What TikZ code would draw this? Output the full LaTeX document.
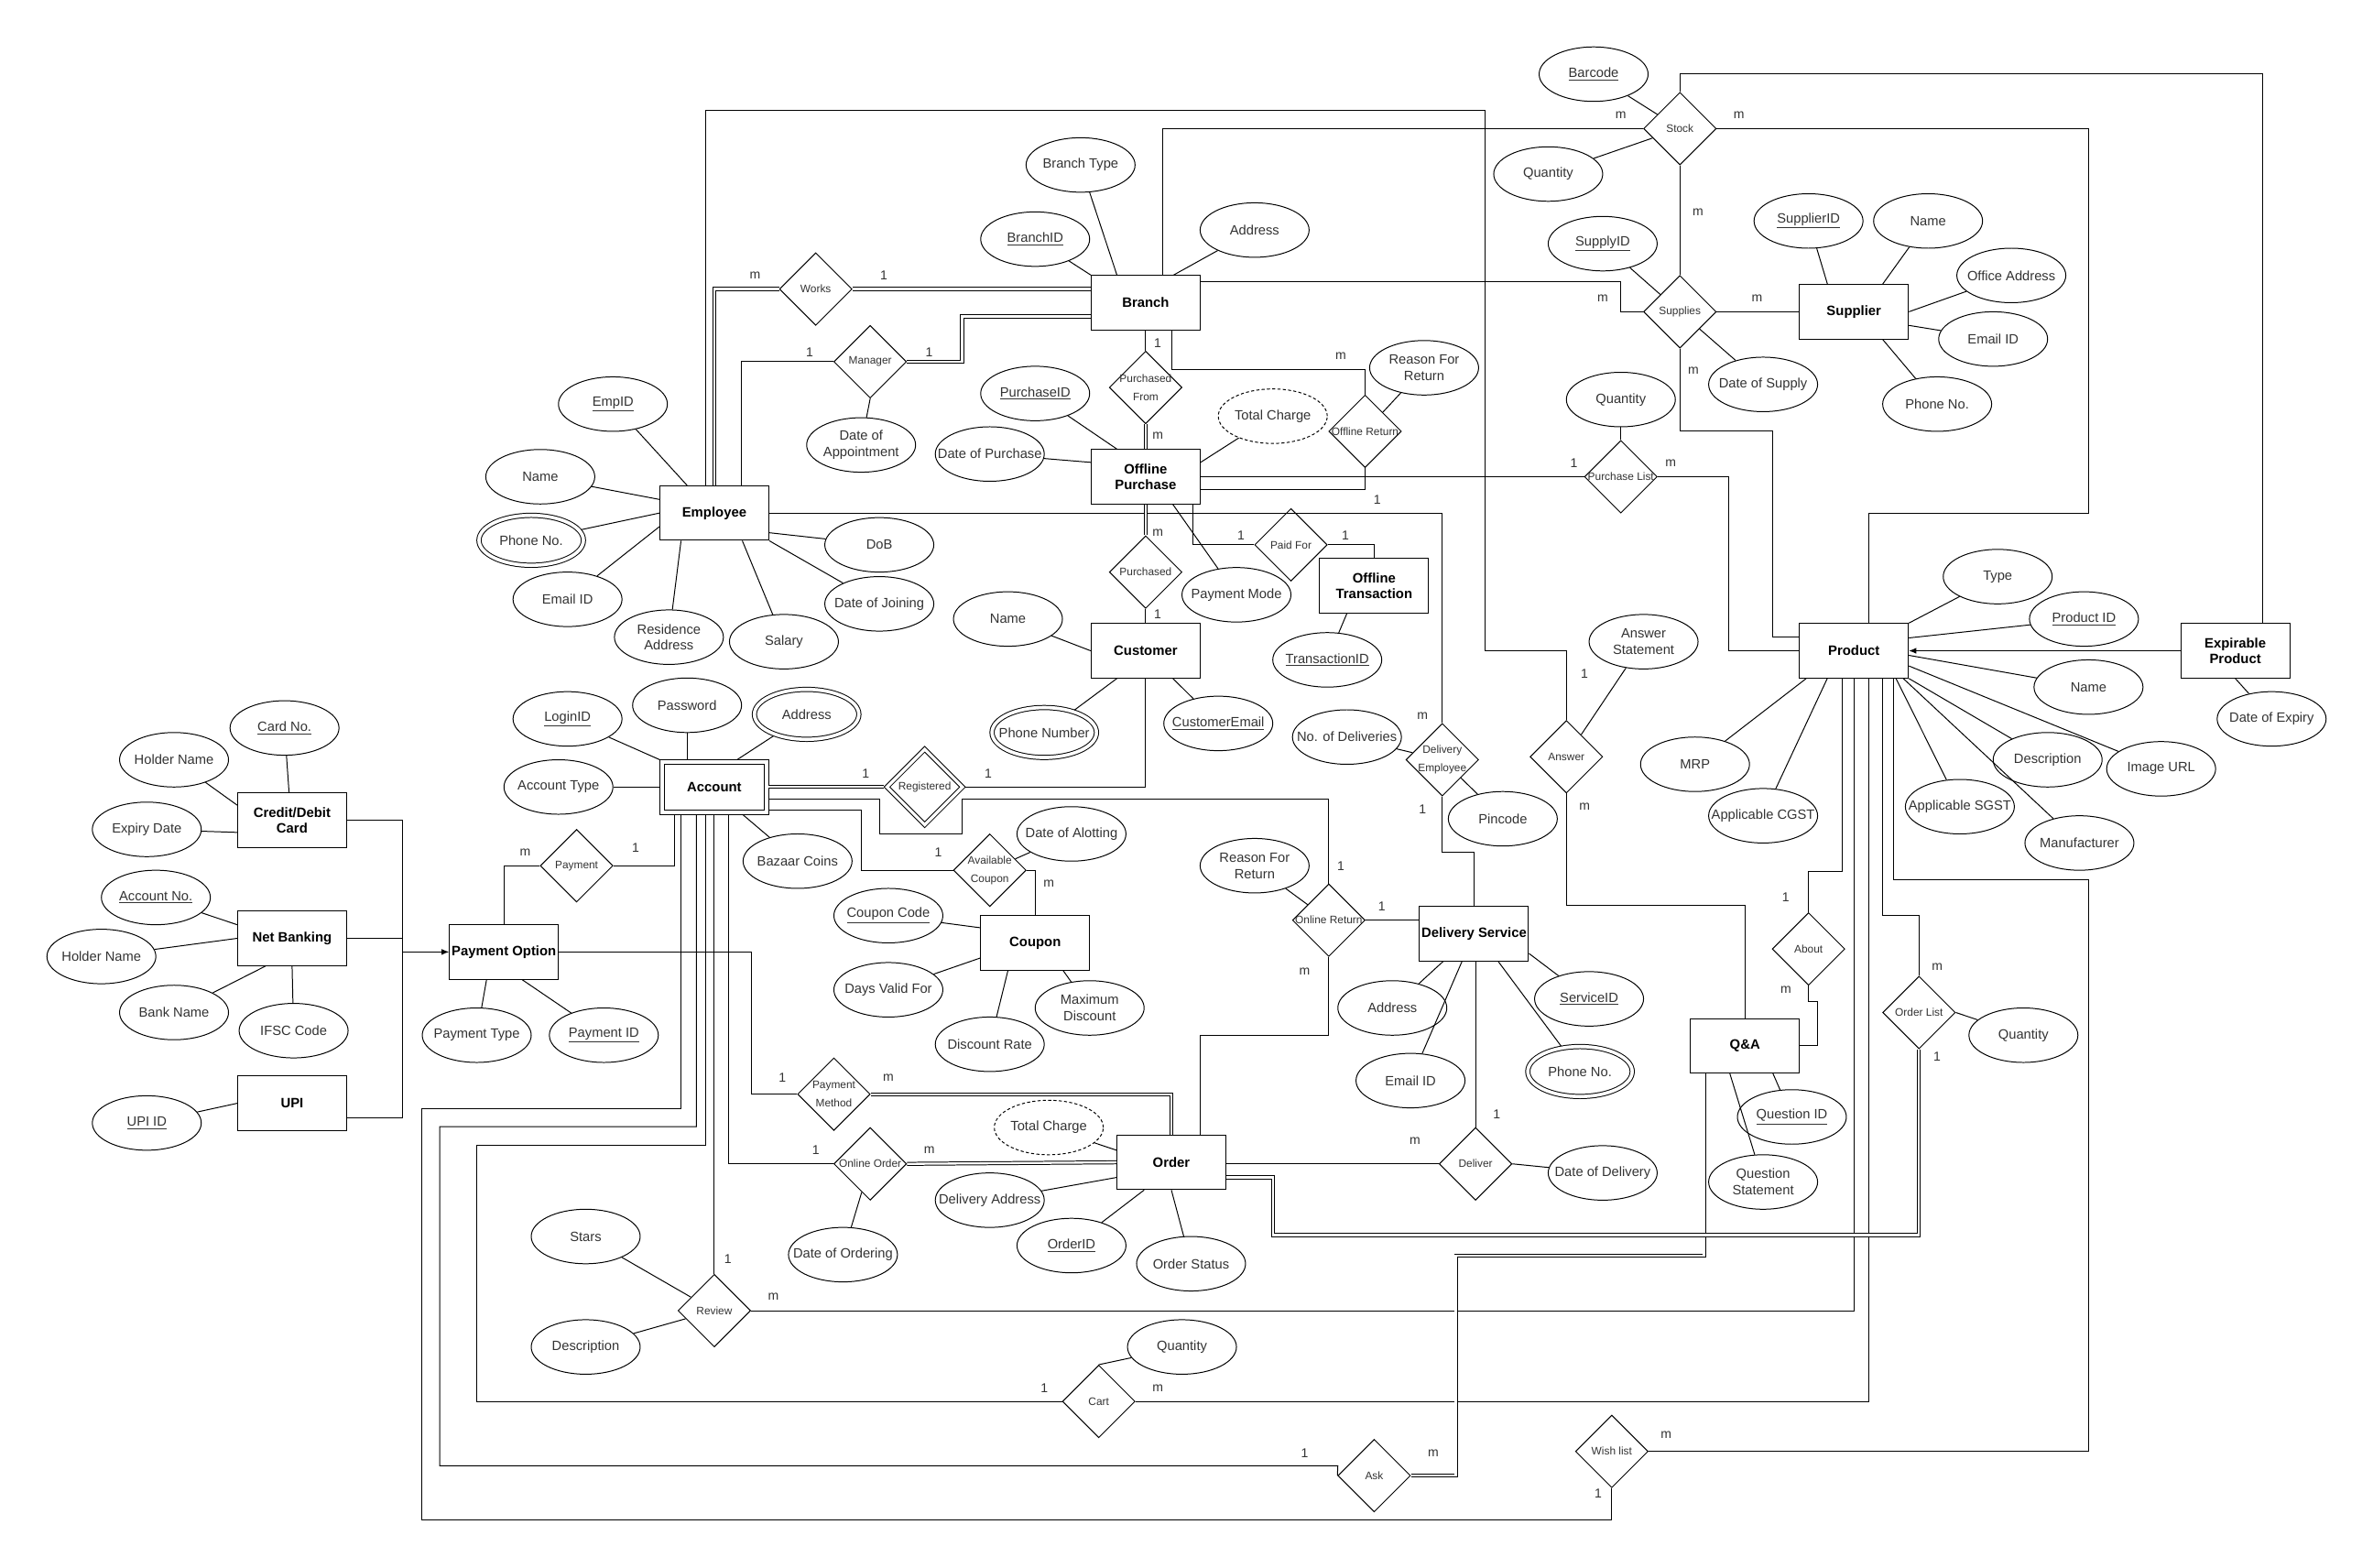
\documentclass[tikz,border=0pt]{standalone}
\usepackage{fontspec}
\setmainfont{Liberation Sans}
\usetikzlibrary{shapes.geometric,arrows.meta,positioning}

\newcommand{\attrfont}{\fontsize{8.9}{10.7}\selectfont}
\newcommand{\relfont}{\fontsize{7.2}{12}\selectfont}
\newcommand{\entfont}{\fontsize{9}{10.5}\selectfont\bfseries}
\newcommand{\cardfont}{\fontsize{8.5}{10}\selectfont}

\tikzset{
  entity/.style={draw, rectangle, minimum width=72pt, minimum height=36pt, inner sep=0.5pt, align=center, font=\entfont},
  wentity/.style={entity, double, double distance=2.4pt, minimum width=69pt, minimum height=33pt, outer sep=1.5pt},
  attrtext/.style={align=center, font=\attrfont, text=black!80, inner sep=0pt},
  attr/.style={draw, ellipse, minimum width=72pt, minimum height=36pt, inner sep=0pt, label={[attrtext]center:#1}},
  mattr/.style={attr=#1, double, double distance=2.2pt, minimum width=69pt, minimum height=33pt, outer sep=1.4pt},
  dattr/.style={attr=#1, dash pattern=on 2pt off 1.5pt},
  reltext/.style={align=center, font=\relfont, text=black!80, inner sep=0pt},
  rel/.style={draw, diamond, minimum width=48pt, minimum height=48pt, inner sep=0pt, label={[reltext]center:#1}},
  wrel/.style={rel=#1, double, double distance=2pt, minimum width=51pt, minimum height=51pt, outer sep=1.3pt},
  card/.style={font=\cardfont, text=black!80, inner sep=0pt},
  total/.style={double, double distance=1.4pt},
  isa/.style={-{Latex[length=5pt,width=4pt]}},
}

\begin{document}
\begin{tikzpicture}[x=1pt, y=-1pt, line width=0.6pt]
  \path[use as bounding box, fill=white] (0,0) rectangle (1568,1036);

  % Entities
  \node[entity] (branch) at (757,200) {Branch};
  \node[entity] (emp) at (472,339) {Employee};
  \node[entity] (opurch) at (757,315) {Offline\\Purchase};
  \node[entity] (cust) at (757,430) {Customer};
  \node[entity] (otrans) at (908,387) {Offline\\Transaction};
  \node[wentity] (account) at (472,520) {Account};
  \node[entity] (coupon) at (684,623) {Coupon};
  \node[entity] (dserv) at (974,617) {Delivery Service};
  \node[entity] (order) at (774,768) {Order};
  \node[entity] (qa) at (1153,691) {Q\&A};
  \node[entity] (product) at (1225,430) {Product};
  \node[entity] (supplier) at (1225,206) {Supplier};
  \node[entity] (expprod) at (1477,430) {Expirable\\Product};
  \node[entity] (cdc) at (193,542) {Credit/Debit\\Card};
  \node[entity] (netb) at (193,620) {Net Banking};
  \node[entity] (payopt) at (333,629) {Payment Option};
  \node[entity] (upi) at (193,729) {UPI};

  % Relationships
  \node[rel=Works] (works) at (539,191) {};
  \node[rel=Manager] (manager) at (575,239) {};
  \node[rel={Purchased\\From}] (pfrom) at (757,256) {};
  \node[rel=Purchased] (purch) at (757,378) {};
  \node[rel={Paid For}] (paidfor) at (853,360) {};
  \node[rel={Offline Return}] (oret) at (902,285) {};
  \node[rel=Stock] (stock) at (1110,85) {};
  \node[rel=Supplies] (supplies) at (1110,206) {};
  \node[rel={Purchase List}] (plist) at (1071,315) {};
  \node[wrel=Registered] (reg) at (611,520) {};
  \node[rel=Payment] (payment) at (381,572) {};
  \node[rel={Available\\Coupon}] (avcoupon) at (654,575) {};
  \node[rel={Delivery\\Employee}] (delemp) at (953,502) {};
  \node[rel=Answer] (answer) at (1035,500) {};
  \node[rel={Online Return}] (onret) at (878,608) {};
  \node[rel=About] (about) at (1195,627) {};
  \node[rel={Order List}] (olist) at (1268,669) {};
  \node[rel={Payment\\Method}] (paymeth) at (551,723) {};
  \node[rel={Online Order}] (onorder) at (575,769) {};
  \node[rel=Review] (review) at (472,866) {};
  \node[rel=Cart] (cart) at (726,926) {};
  \node[rel=Deliver] (deliver) at (975,769) {};
  \node[rel=Ask] (ask) at (908,975) {};
  \node[rel={Wish list}] (wish) at (1065,959) {};

  % Attributes
  \node[attr={\underline{EmpID}}] (empid) at (405,267) {};
  \node[attr=Name] (empname) at (357,315) {};
  \node[mattr={Phone No.}] (empphone) at (351,357) {};
  \node[attr={Email ID}] (empmail) at (375,396) {};
  \node[attr={Residence\\Address}] (empaddr) at (442,421) {};
  \node[attr=Salary] (empsal) at (518,424) {};
  \node[attr=DoB] (empdob) at (581,360) {};
  \node[attr={Date of Joining}] (empdoj) at (581,399) {};
  \node[attr={Branch Type}] (brtype) at (714,109) {};
  \node[attr={\underline{BranchID}}] (brid) at (684,158) {};
  \node[attr=Address] (braddr) at (829,152) {};
  \node[attr={Date of\\Appointment}] (mgrdate) at (569,294) {};
  \node[attr={\underline{PurchaseID}}] (purid) at (684,260) {};
  \node[attr={Date of Purchase}] (purdate) at (654,300) {};
  \node[dattr={Total Charge}] (purtotal) at (841,275) {};
  \node[attr={Payment Mode}] (purmode) at (817,393) {};
  \node[attr={Reason For\\Return}] (oretreason) at (941,243) {};
  \node[attr={\underline{TransactionID}}] (transid) at (877,436) {};
  \node[attr=Name] (custname) at (666,409) {};
  \node[mattr={Phone Number}] (custphone) at (690,484) {};
  \node[attr={\underline{CustomerEmail}}] (custmail) at (805,478) {};
  \node[attr={\underline{LoginID}}] (login) at (375,475) {};
  \node[attr=Password] (pwd) at (454,466) {};
  \node[mattr=Address] (accaddr) at (533,472) {};
  \node[attr={Account Type}] (acctype) at (369,520) {};
  \node[attr={Bazaar Coins}] (coins) at (527,569) {};
  \node[attr={Date of Alotting}] (allotdate) at (708,551) {};
  \node[attr={\underline{Coupon Code}}] (ccode) at (587,605) {};
  \node[attr={Days Valid For}] (cdays) at (587,654) {};
  \node[attr={Discount Rate}] (crate) at (654,690) {};
  \node[attr={Maximum\\Discount}] (cmax) at (720,666) {};
  \node[dattr={Total Charge}] (ordtotal) at (693,745) {};
  \node[attr={Delivery Address}] (ordaddr) at (654,793) {};
  \node[attr={\underline{OrderID}}] (ordid) at (708,823) {};
  \node[attr={Order Status}] (ordstatus) at (787,835) {};
  \node[attr={Date of Ordering}] (orddate) at (557,829) {};
  \node[attr=Stars] (stars) at (387,817) {};
  \node[attr=Description] (revdesc) at (387,890) {};
  \node[attr=Quantity] (cartqty) at (781,890) {};
  \node[attr={Reason For\\Return}] (onretreason) at (829,572) {};
  \node[attr={No. of Deliveries}] (deliveries) at (890,487) {};
  \node[attr=Pincode] (pincode) at (993,541) {};
  \node[attr=Address] (dsaddr) at (920,666) {};
  \node[attr={\underline{ServiceID}}] (dsid) at (1050,660) {};
  \node[attr={Email ID}] (dsmail) at (932,714) {};
  \node[mattr={Phone No.}] (dsphone) at (1044,708) {};
  \node[attr={Date of Delivery}] (deldate) at (1059,775) {};
  \node[attr={\underline{Question ID}}] (qid) at (1184,738) {};
  \node[attr={Question\\Statement}] (qstmt) at (1165,781) {};
  \node[attr={Answer\\Statement}] (astmt) at (1086,424) {};
  \node[attr={\underline{Barcode}}] (barcode) at (1053,49) {};
  \node[attr=Quantity] (stockqty) at (1023,115) {};
  \node[attr={\underline{SupplyID}}] (supplyid) at (1059,161) {};
  \node[attr={Date of Supply}] (supplydate) at (1165,254) {};
  \node[attr=Quantity] (plistqty) at (1071,264) {};
  \node[attr={\underline{SupplierID}}] (supid) at (1195,146) {};
  \node[attr=Name] (supname) at (1274,146) {};
  \node[attr={Office Address}] (supoffice) at (1329,182) {};
  \node[attr={Email ID}] (supmail) at (1317,224) {};
  \node[attr={Phone No.}] (supphone) at (1280,267) {};
  \node[attr=Type] (ptype) at (1320,381) {};
  \node[attr={\underline{Product ID}}] (pid) at (1377,409) {};
  \node[attr=Name] (pname) at (1380,454) {};
  \node[attr=Description] (pdesc) at (1353,502) {};
  \node[attr={Image URL}] (pimg) at (1428,508) {};
  \node[attr={Applicable SGST}] (psgst) at (1295,533) {};
  \node[attr=Manufacturer] (pmanu) at (1374,557) {};
  \node[attr=MRP] (pmrp) at (1120,505) {};
  \node[attr={Applicable CGST}] (pcgst) at (1165,539) {};
  \node[attr={Date of Expiry}] (pexpiry) at (1501,475) {};
  \node[attr=Quantity] (olistqty) at (1337,684) {};
  \node[attr={Payment Type}] (paytype) at (315,684) {};
  \node[attr={\underline{Payment ID}}] (payid) at (399,684) {};
  \node[attr={\underline{Card No.}}] (cardno) at (188,481) {};
  \node[attr={Holder Name}] (cardholder) at (115,502) {};
  \node[attr={Expiry Date}] (cardexp) at (97,548) {};
  \node[attr={\underline{Account No.}}] (accno) at (103,593) {};
  \node[attr={Holder Name}] (nbholder) at (67,632) {};
  \node[attr={Bank Name}] (bank) at (115,669) {};
  \node[attr={IFSC Code}] (ifsc) at (194,681) {};
  \node[attr={\underline{UPI ID}}] (upiid) at (97,742) {};

  % Attribute links
  \draw ([xshift=-18pt]emp.north) -- (empid);
  \draw ([yshift=9pt]emp.west) -- (empname);
  \draw (emp.west) -- (empphone);
  \draw ([yshift=-9pt]emp.west) -- (empmail);
  \draw ([xshift=-22pt]emp.south) -- (empaddr);
  \draw ([xshift=18.5pt]emp.south) -- (empsal);
  \draw ([yshift=-13pt]emp.east) -- (empdob);
  \draw (emp.south east) -- (empdoj);
  \draw ([xshift=-19pt]branch.north) -- (brtype);
  \draw (branch.north west) -- (brid);
  \draw ([xshift=18.5pt]branch.north) -- (braddr);
  \draw (manager.south) -- (mgrdate);
  \draw ([xshift=-19pt]opurch.north) -- (purid);
  \draw ([yshift=9.5pt]opurch.west) -- (purdate);
  \draw ([yshift=9.5pt]opurch.east) -- (purtotal);
  \draw ([xshift=18pt]opurch.south) -- (purmode);
  \draw (oret) -- (oretreason);
  \draw ([xshift=-18pt]otrans.south) -- (transid);
  \draw (cust.west) -- (custname);
  \draw ([xshift=-19pt]cust.south) -- (custphone);
  \draw ([xshift=18pt]cust.south) -- (custmail);
  \draw (account.north west) -- (login);
  \draw ([xshift=-18pt]account.north) -- (pwd);
  \draw ([xshift=15pt]account.north) -- (accaddr);
  \draw (account.west) -- (acctype);
  \draw ([xshift=18.5pt]account.south) -- (coins);
  \draw (avcoupon) -- (allotdate);
  \draw ([yshift=10pt]coupon.west) -- (ccode);
  \draw ([yshift=-10pt]coupon.west) -- (cdays);
  \draw ([xshift=-18pt]coupon.south) -- (crate);
  \draw ([xshift=18.5pt]coupon.south) -- (cmax);
  \draw ([yshift=8pt]order.west) -- (ordtotal);
  \draw ([yshift=-10pt]order.west) -- (ordaddr);
  \draw ([xshift=-18pt]order.south) -- (ordid);
  \draw (order.south) -- (ordstatus);
  \draw (onorder) -- (orddate);
  \draw (review) -- (stars);
  \draw (review) -- (revdesc);
  \draw (cart.north) -- (cartqty);
  \draw (onret) -- (onretreason);
  \draw (delemp) -- (deliveries);
  \draw (delemp) -- (pincode);
  \draw ([xshift=-20.5pt]dserv.south) -- (dsaddr);
  \draw ([xshift=-8pt]dserv.south) -- (dsmail);
  \draw ([xshift=16pt]dserv.south) -- (dsphone);
  \draw ([yshift=-13pt]dserv.east) -- (dsid);
  \draw (deliver.east) -- (deldate);
  \draw ([xshift=18.5pt]qa.south) -- (qid);
  \draw ([xshift=-10pt]qa.south) -- (qstmt);
  \draw (answer) -- (astmt);
  \draw (stock) -- (barcode);
  \draw (stock) -- (stockqty);
  \draw (supplies) -- (supplyid);
  \draw (supplies) -- (supplydate);
  \draw (plistqty) -- (plist.north);
  \draw ([xshift=-17.5pt]supplier.north) -- (supid);
  \draw ([xshift=19pt]supplier.north) -- (supname);
  \draw (supplier.east) -- (supoffice);
  \draw ([yshift=-9pt]supplier.east) -- (supmail);
  \draw ([xshift=19pt]supplier.south) -- (supphone);
  \draw (product.north east) -- (ptype);
  \draw ([yshift=8.5pt]product.east) -- (pid);
  \draw ([yshift=-3pt]product.east) -- (pname);
  \draw ([yshift=-10pt]product.east) -- (pimg);
  \draw (product.south east) -- (pdesc);
  \draw ([xshift=27.8pt]product.south) -- (psgst);
  \draw ([xshift=32.6pt]product.south) -- (pmanu);
  \draw ([xshift=-31.5pt]product.south) -- (pmrp);
  \draw ([xshift=-17.6pt]product.south) -- (pcgst);
  \draw (expprod.south) -- (pexpiry);
  \draw (olist.east) -- (olistqty);
  \draw ([xshift=-11.5pt]payopt.south) -- (paytype);
  \draw ([xshift=12pt]payopt.south) -- (payid);
  \draw ([xshift=-2pt]cdc.north) -- (cardno);
  \draw ([yshift=10pt]cdc.west) -- (cardholder);
  \draw ([yshift=-8pt]cdc.west) -- (cardexp);
  \draw ([yshift=9pt]netb.west) -- (accno);
  \draw (netb.west) -- (nbholder);
  \draw ([xshift=-17.5pt]netb.south) -- (bank);
  \draw (netb.south) -- (ifsc);
  \draw (upi.west) -- (upiid);

  % Relationship links
  \draw[total] (emp.north) |- (works.west);
  \draw[total] (works.east) -- (works.east -| branch.west);
  \draw ([xshift=18pt]emp.north) |- (manager.west);
  \draw[total] (manager.east) -- ++(36.5,0) |- ([yshift=-9pt]branch.west);
  \draw ([xshift=-6pt]emp.north) |- (981,73) -- (981,430) -| (answer.north);
  \draw (emp.east) -| (delemp.north);
  \draw (branch.south) -- (pfrom.north);
  \draw[total] (pfrom.south) -- (opurch.north);
  \draw[total] (opurch.south) -- (purch.north);
  \draw (purch.south) -- (cust.north);
  \draw ([xshift=31pt]opurch.south) |- (paidfor.west);
  \draw (paidfor.east) -| (otrans.north);
  \draw ([xshift=17.5pt]branch.south) -- ++(0,26) -| (oret.north);
  \draw (oret.south) |- ([yshift=-8.5pt]opurch.east);
  \draw ([xshift=11.5pt]branch.north) |- (stock.west);
  \draw (stock.east) -| (1380,339) -| ([xshift=10pt]product.north);
  \draw (stock.north) -- ++(0,-12) -| ([xshift=18pt]expprod.north);
  \draw (stock.south) -- (supplies.north);
  \draw (supplies.west) -- ++(-15,0) |- ([yshift=14pt]branch.east);
  \draw (supplies.east) -- (supplier.west);
  \draw (supplies.south) |- (1171,285) |- ([yshift=9pt]product.west);
  \draw (plist.west) -- (plist.west -| opurch.east);
  \draw (plist.east) -- ++(47,0) |- (product.west);
  \draw[total] (account.east) -- (reg.west);
  \draw (reg.east) -| (cust.south);
  \draw ([yshift=-8pt]account.east) -| (581,551) -| (636,528) -| (onret.north);
  \draw ([yshift=-15pt]account.east) -| (569,575) -- (avcoupon.west);
  \draw (avcoupon.east) -| (coupon.north);
  \draw (payment.east) -| ([xshift=-26.5pt]account.south);
  \draw (payment.west) -| (payopt.north);
  \coordinate (payjoin) at (266,629);
  \coordinate (upiend) at ([yshift=-9.5pt]upi.east);
  \draw (cdc.east) -| (upiend -| payjoin) -- (upiend);
  \draw (netb.east) -- (netb.east -| payjoin);
  \draw[isa] (payjoin) -- (payopt.west);
  \draw (payopt.east) -| ([xshift=-30pt]paymeth.west) -- (paymeth.west);
  \draw[total] (paymeth.east) -| (order.north);
  \draw (onorder.west) -| ([xshift=9.5pt]account.south);
  \draw[total] (onorder.east) -- (order.west);
  \draw (account.south) -- (review.north);
  \draw (review.east) -| (product.south);
  \draw (cart.west) -| (315,757) -| ([xshift=-5.7pt]account.south);
  \draw (cart.east) -| ([xshift=10pt]product.south);
  \draw ([xshift=-11.8pt]account.south) |- (290.6,744.4) |- (884,968.5) -- (ask.west);
  \draw[total] (ask.east) -| (962,829.5) -| ([xshift=-27pt]qa.south);
  \draw ([xshift=-22pt]account.south) |- (278.6,732.5) |- (1065,1004.5) -- (wish.south);
  \draw (wish.east) -| (1380,581.4) -| ([xshift=26pt]product.south);
  \draw (olist.north) |- (1244,605) -| ([xshift=19pt]product.south);
  \draw[total] ([yshift=-10pt]order.east) -| (841,816) -| (olist.south);
  \draw (about.north) -- ++(0,-27) -| ([xshift=-7.5pt]product.south);
  \draw (about.south) |- (1201,662) |- (qa.east);
  \draw (answer.south) -- ++(0,74) -| (qa.north);
  \draw (delemp.south) -- ++(0,37) -| (dserv.north);
  \draw (onret.east) -- (onret.east -| dserv.west);
  \draw (onret.south) -- ++(0,52) -| ([xshift=19pt]order.north);
  \draw (deliver.north) -- (deliver.north |- dserv.south);
  \draw (deliver.west) -- (deliver.west -| order.east);
  \draw[isa] (expprod.west) -- (product.east);

  % Cardinalities
  \node[card] (works-m) at (499,182) {m};
  \node[card] (works-1) at (584,182) {1};
  \node[card] (mgr-e) at (535,233) {1};
  \node[card] (mgr-b) at (614,233) {1};
  \node[card] (pfrom-1) at (765,227) {1};
  \node[card] (pfrom-m) at (765,288) {m};
  \node[card] (purch-m) at (765,352) {m};
  \node[card] (purch-1) at (765,406) {1};
  \node[card] (paid-p) at (820,354) {1};
  \node[card] (paid-t) at (889,354) {1};
  \node[card] (oret-m) at (886,235) {m};
  \node[card] (delemp-e) at (910,330) {1};
  \node[card] (delemp-m) at (940,473) {m};
  \node[card] (delemp-s) at (940,535) {1};
  \node[card] (stock-b) at (1071,76) {m};
  \node[card] (stock-p) at (1149,76) {m};
  \node[card] (stock-s) at (1122,140) {m};
  \node[card] (sup-b) at (1059,197) {m};
  \node[card] (sup-s) at (1161,197) {m};
  \node[card] (sup-p) at (1119,245) {m};
  \node[card] (plist-1) at (1040,306) {1};
  \node[card] (plist-m) at (1104,306) {m};
  \node[card] (ans-1) at (1047,445) {1};
  \node[card] (ans-m) at (1047,533) {m};
  \node[card] (reg-a) at (572,511) {1};
  \node[card] (reg-c) at (653,511) {1};
  \node[card] (pay-m) at (347,563) {m};
  \node[card] (pay-1) at (420,560) {1};
  \node[card] (avc-1) at (620,563) {1};
  \node[card] (avc-m) at (693,584) {m};
  \node[card] (onret-a) at (886,572) {1};
  \node[card] (onret-d) at (913,599) {1};
  \node[card] (onret-m) at (862,642) {m};
  \node[card] (about-1) at (1180,593) {1};
  \node[card] (about-m) at (1180,654) {m};
  \node[card] (olist-m) at (1280,639) {m};
  \node[card] (olist-1) at (1280,698) {1};
  \node[card] (pm-1) at (517,712) {1};
  \node[card] (pm-m) at (587,712) {m};
  \node[card] (oo-1) at (539,760) {1};
  \node[card] (oo-m) at (614,760) {m};
  \node[card] (del-m) at (935,754) {m};
  \node[card] (del-1) at (989,736) {1};
  \node[card] (rev-1) at (481,832) {1};
  \node[card] (rev-m) at (511,857) {m};
  \node[card] (cart-1) at (690,917) {1};
  \node[card] (cart-m) at (765,917) {m};
  \node[card] (ask-1) at (862,960) {1};
  \node[card] (ask-m) at (947,960) {m};
  \node[card] (wish-m) at (1101,948) {m};
  \node[card] (wish-1) at (1056,987) {1};
\end{tikzpicture}
\end{document}
